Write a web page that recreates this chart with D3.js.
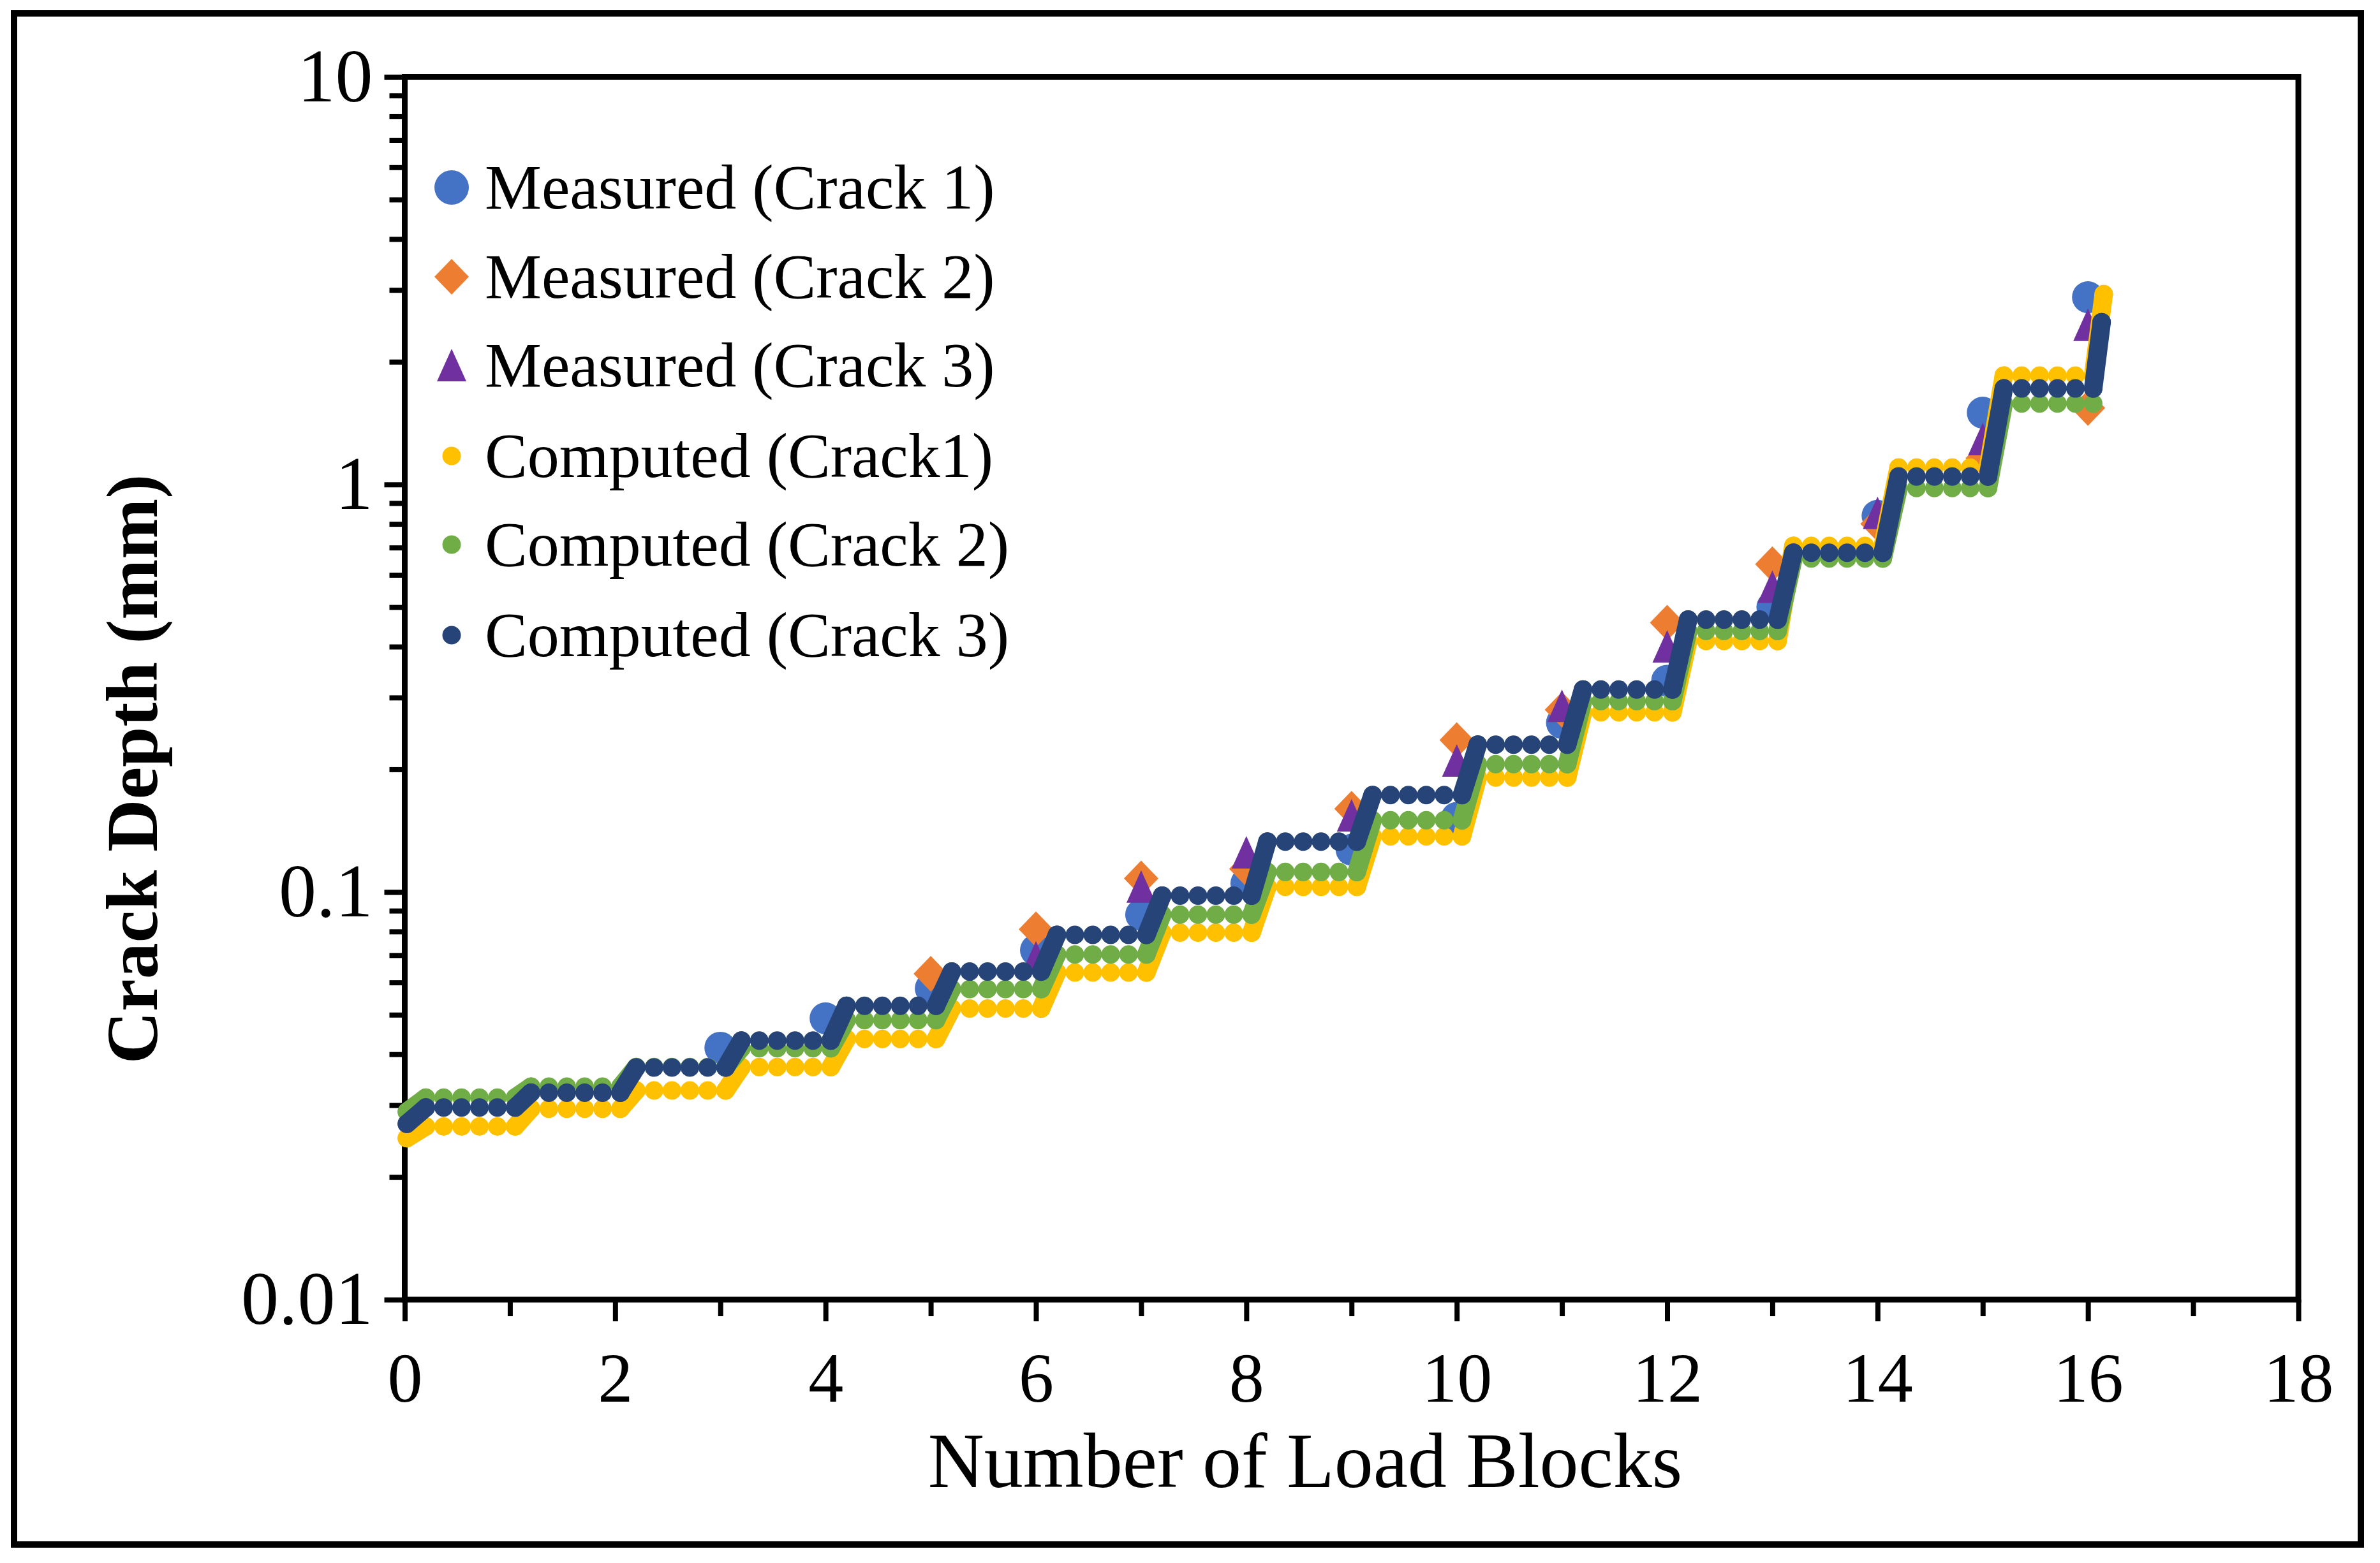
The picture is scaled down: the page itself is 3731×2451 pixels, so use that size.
<!DOCTYPE html>
<html>
<head>
<meta charset="utf-8">
<script src="https://cdn.jsdelivr.net/npm/d3@7"></script>
<style>
  body { margin: 0; background: #fff; }
  text { font-family: "Liberation Serif", "Times New Roman", serif; fill: #000; }
</style>
</head>
<body>
<div id="chart"></div>
<script>
const width = 3731
const height = 2451

// load blocks and where the computed dots sit inside one block
const blocks = [0, 1, 2, 3, 4, 5, 6, 7, 8, 9, 10, 11, 12, 13, 14, 15]
const dotOffsets = [0.2, 0.37, 0.54, 0.71, 0.88, 1.05]

// computed crack depth (mm) held during each block
const computed1 = [0.0266, 0.0294, 0.0326, 0.0372, 0.0436, 0.0518, 0.0635, 0.0795, 0.103, 0.137, 0.191, 0.276, 0.413, 0.707, 1.10, 1.85]
const computed2 = [0.0313, 0.0333, 0.0372, 0.0414, 0.0485, 0.0578, 0.0703, 0.088, 0.112, 0.150, 0.206, 0.294, 0.437, 0.658, 0.98, 1.58]
const computed3 = [0.0296, 0.0322, 0.0371, 0.0432, 0.0526, 0.0638, 0.0785, 0.098, 0.133, 0.173, 0.230, 0.314, 0.466, 0.680, 1.046, 1.72]
const computedStart = [0.0249, 0.0289, 0.0270]
const computedEndX = [16.15, null, 16.13]
const computedEnd = [2.93, null, 2.50]

// measured crack depth (mm)
const measured1X = [3, 4, 5, 6, 7, 8, 9, 10, 11, 12, 13, 14, 15, 16]
const measured1 = [0.0415, 0.049, 0.058, 0.072, 0.088, 0.105, 0.127, 0.152, 0.26, 0.33, 0.50, 0.838, 1.50, 2.88]
const measured2X = [5, 6, 7, 8, 9, 10, 11, 12, 13, 14, 15, 16]
const measured2 = [0.063, 0.081, 0.108, 0.114, 0.160, 0.236, 0.28, 0.458, 0.637, 0.80, 1.16, 1.54]
const measured3X = [6, 7, 8, 9, 10, 11, 12, 13, 14, 15, 16]
const measured3 = [0.069, 0.103, 0.125, 0.154, 0.210, 0.286, 0.40, 0.56, 0.85, 1.29, 2.46]

const legendLabels = ["Measured (Crack 1)", "Measured (Crack 2)", "Measured (Crack 3)",
  "Computed (Crack1)", "Computed (Crack 2)", "Computed (Crack 3)"]
const xTickValues = [0, 2, 4, 6, 8, 10, 12, 14, 16, 18]
const yTickValues = [0.01, 0.1, 1, 10]

const colors = ["#4472C4", "#ED7D31", "#7030A0", "#FFC000", "#70AD47", "#264478"]

const svg = d3.select("#chart")
  .append("svg")
  .attr("width", width)
  .attr("height", height)

svg.append("rect")
  .attr("x", 0).attr("y", 0).attr("width", width).attr("height", height)
  .attr("fill", "#fff")

// outer frame
svg.append("rect")
  .attr("x", 22).attr("y", 21).attr("width", 3679).attr("height", 2401)
  .attr("fill", "none").attr("stroke", "#000").attr("stroke-width", 10)

const x = d3.scaleLinear().domain([0, 18]).range([634.5, 3603])
const y = d3.scaleLog().domain([0.01, 10]).range([2038, 120.5])

const axisColor = g => {
  g.selectAll("line").attr("stroke", "#000").attr("stroke-width", 8)
  g.selectAll("path").remove()
}

// x axis: labelled majors and short minors
const xMinor = svg.append("g").attr("transform", `translate(0,${y(0.01)})`)
  .call(d3.axisBottom(x).tickValues([1, 3, 5, 7, 9, 11, 13, 15, 17]).tickSize(26).tickFormat(""))
xMinor.call(axisColor)
const xMajor = svg.append("g").attr("transform", `translate(0,${y(0.01)})`)
  .call(d3.axisBottom(x).tickValues(xTickValues).tickSize(34).tickPadding(48).tickFormat(d3.format("d")))
xMajor.call(axisColor)
xMajor.selectAll("text").attr("font-size", 110).attr("dy", "0.71em")

// y axis: log with minor ticks
const yMinorVals = []
;[0.01, 0.1, 1].forEach(d => [2, 3, 4, 5, 6, 7, 8, 9].forEach(m => yMinorVals.push(d * m)))
const yMinor = svg.append("g").attr("transform", `translate(${x(0)},0)`)
  .call(d3.axisLeft(y).tickValues(yMinorVals).tickSize(24).tickFormat(""))
yMinor.call(axisColor)
const yMajor = svg.append("g").attr("transform", `translate(${x(0)},0)`)
  .call(d3.axisLeft(y).tickValues(yTickValues).tickSize(32).tickPadding(18).tickFormat(d => String(d)))
yMajor.call(axisColor)
yMajor.selectAll("text").attr("font-size", 118)

// plot box
svg.append("rect")
  .attr("x", x(0)).attr("y", y(10))
  .attr("width", x(18) - x(0)).attr("height", y(0.01) - y(10))
  .attr("fill", "none").attr("stroke", "#000").attr("stroke-width", 9)

// axis titles
svg.append("text")
  .attr("x", 2046).attr("y", 2332)
  .attr("text-anchor", "middle").attr("font-size", 122)
  .text("Number of Load Blocks")
svg.append("text")
  .attr("transform", "translate(246,1206) rotate(-90)")
  .attr("text-anchor", "middle").attr("font-size", 114).attr("font-weight", "bold")
  .text("Crack Depth (mm)")

const plot = svg.append("g")

// marker shapes
const circleR = 25
const dotR = 14.5
const diamond = "M0,-28L27,0L0,28L-27,0Z"
const triangle = "M0,-26L23,25L-23,25Z"

const drawMeasured = (xs, vals, i) => {
  const pts = xs.map((d, j) => ({x: d, y: vals[j]}))
  const sel = plot.append("g").selectAll("path").data(pts).join("path")
    .attr("fill", colors[i])
    .attr("transform", d => `translate(${x(d.x)},${y(d.y)})`)
  if (i === 0) sel.attr("d", d3.symbol(d3.symbolCircle, Math.PI * circleR * circleR)())
  if (i === 1) sel.attr("d", diamond)
  if (i === 2) sel.attr("d", triangle)
}
drawMeasured(measured1X, measured1, 0)
drawMeasured(measured2X, measured2, 1)
drawMeasured(measured3X, measured3, 2)

const drawComputed = (levels, i) => {
  const c = colors[i + 3]
  const pts = [{x: 0.02, y: computedStart[i]}]
  blocks.forEach(b => dotOffsets.forEach(o => pts.push({x: b + o, y: levels[b]})))
  if (computedEnd[i] !== null) pts.push({x: computedEndX[i], y: computedEnd[i]})

  // ramps between the flat steps
  const ramps = []
  ramps.push([pts[0], pts[1]])
  blocks.forEach(b => {
    const last = pts[1 + b * dotOffsets.length + dotOffsets.length - 1]
    const next = pts[1 + (b + 1) * dotOffsets.length]
    if (next) ramps.push([last, next])
  })
  const g = plot.append("g")
  g.selectAll("line").data(ramps).join("line")
    .attr("x1", d => x(d[0].x)).attr("y1", d => y(d[0].y))
    .attr("x2", d => x(d[1].x)).attr("y2", d => y(d[1].y))
    .attr("stroke", c).attr("stroke-width", dotR * 2).attr("stroke-linecap", "round")
  g.selectAll("circle").data(pts).join("circle")
    .attr("cx", d => x(d.x)).attr("cy", d => y(d.y)).attr("r", dotR)
    .attr("fill", c)
}
drawComputed(computed1, 0)
drawComputed(computed2, 1)
drawComputed(computed3, 2)

// legend
const legendY = [294, 434, 573, 715, 854, 996]
const legend = svg.append("g")
legendLabels.forEach((lab, i) => {
  const row = legend.append("g").attr("transform", `translate(708,${legendY[i]})`)
  if (i === 0) row.append("circle").attr("r", 27).attr("fill", colors[0])
  if (i === 1) row.append("path").attr("d", diamond).attr("fill", colors[1])
  if (i === 2) row.append("path").attr("d", triangle).attr("fill", colors[2])
  if (i > 2) row.append("circle").attr("r", dotR).attr("fill", colors[i])
  row.append("text").attr("x", 52).attr("y", 33).attr("font-size", 100).text(lab)
})
</script>
</body>
</html>
